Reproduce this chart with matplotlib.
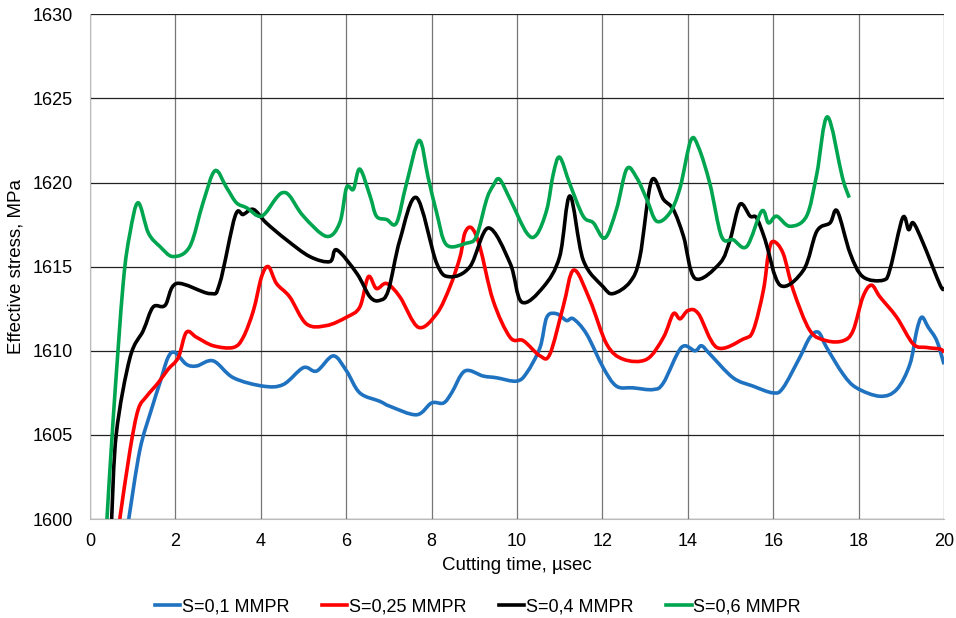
import numpy as np
import matplotlib.pyplot as plt
from matplotlib.path import Path
from matplotlib.patches import PathPatch

plt.rcParams['font.family'] = ['Liberation Sans', 'DejaVu Sans']

# S=0,1 MMPR
t_01 = [0.91, 1.17, 1.44, 1.64, 1.83, 1.99, 2.26, 2.5, 2.89, 3.36, 4.06, 4.53, 5.0, 5.31, 5.70, 6.01, 6.32, 6.79,
        7.03, 7.65, 8.0, 8.28, 8.47, 8.78, 9.21, 9.52, 9.99, 10.23, 10.54, 10.70, 10.93, 11.16, 11.32, 11.63, 12.02,
        12.33, 12.72, 13.19, 13.43, 13.85, 14.17, 14.32, 14.52, 15.06, 15.53, 16.0, 16.23, 16.62, 16.86, 17.06, 17.25,
        17.64, 17.95, 18.5, 18.89, 19.2, 19.36, 19.48, 19.63, 19.83, 20.0]
s_01 = [1600, 1604.1, 1606.5, 1608.1, 1609.6, 1609.9, 1609.2, 1609.1, 1609.4, 1608.4, 1607.9, 1608.0, 1609.0, 1608.8,
        1609.7, 1608.8, 1607.5, 1607.0, 1606.7, 1606.2, 1606.9, 1606.9, 1607.5, 1608.8, 1608.5, 1608.4, 1608.2, 1608.7,
        1610.2, 1612.0, 1612.2, 1611.8, 1611.9, 1611.0, 1609.0, 1607.9, 1607.8, 1607.7, 1608.1, 1610.2, 1610.0, 1610.3,
        1609.8, 1608.4, 1607.9, 1607.5, 1607.8, 1609.6, 1610.8, 1611.1, 1610.2, 1608.6, 1607.8, 1607.3, 1607.7, 1609.2,
        1611.2, 1612.0, 1611.4, 1610.6, 1609.2]

# S=0,25 MMPR
t_025 = [0.70, 0.94, 1.13, 1.33, 1.60, 1.83, 2.07, 2.26, 2.5, 2.89, 3.36, 3.59, 3.83, 4.02, 4.18, 4.37, 4.68, 5.07,
         5.54, 6.01, 6.32, 6.52, 6.71, 6.95, 7.26, 7.69, 8.12, 8.43, 8.67, 8.78, 8.94, 9.13, 9.44, 9.84, 10.15, 10.54,
         10.77, 11.08, 11.33, 11.71, 12.1, 12.49, 13.04, 13.43, 13.66, 13.82, 14.01, 14.25, 14.68, 15.3, 15.53, 15.77,
         15.89, 16.0, 16.23, 16.47, 16.86, 17.25, 17.64, 17.87, 18.1, 18.3, 18.5, 18.89, 19.28, 19.59, 19.91, 20.0]
s_025 = [1600, 1604.1, 1606.5, 1607.3, 1608.1, 1608.9, 1609.6, 1611.1, 1610.8, 1610.3, 1610.2, 1610.8, 1612.4, 1614.4,
         1615.0, 1614.0, 1613.2, 1611.6, 1611.5, 1612.0, 1612.6, 1614.4, 1613.7, 1614.0, 1613.2, 1611.4, 1612.2, 1613.8,
         1615.6, 1617.0, 1617.3, 1616.2, 1613.0, 1610.8, 1610.6, 1609.7, 1609.8, 1612.6, 1614.8, 1613.0, 1610.4, 1609.5,
         1609.5, 1610.8, 1612.2, 1611.9, 1612.4, 1612.2, 1610.2, 1610.7, 1611.2, 1613.6, 1615.8, 1616.5, 1615.8, 1613.6,
         1611.2, 1610.6, 1610.6, 1611.2, 1613.2, 1613.9, 1613.2, 1612.0, 1610.4, 1610.2, 1610.1, 1609.9]

# S=0,4 MMPR
t_04 = [0.51, 0.62, 0.94, 1.25, 1.48, 1.76, 2.03, 2.81, 3.04, 3.40, 3.59, 3.83, 4.13, 4.6, 5.15, 5.62, 5.78, 6.25,
        6.56, 6.79, 6.99, 7.26, 7.65, 8.12, 8.43, 8.90, 9.33, 9.84, 10.11, 10.62, 11.0, 11.24, 11.55, 12.02, 12.25,
        12.65, 12.88, 13.15, 13.43, 13.66, 13.9, 14.17, 14.75, 14.99, 15.22, 15.46, 15.61, 15.81, 16.16, 16.71, 17.02,
        17.33, 17.5, 17.8, 18.1, 18.58, 18.74, 19.03, 19.17, 19.28, 19.51, 19.91, 20.0]
s_04 = [1600, 1605.1, 1609.6, 1611.2, 1612.6, 1612.7, 1614.0, 1613.4, 1614.0, 1618.0, 1618.1, 1618.4, 1617.6, 1616.6,
        1615.6, 1615.3, 1616.0, 1614.6, 1613.2, 1613.0, 1613.6, 1616.6, 1619.1, 1615.2, 1614.4, 1615.0, 1617.3, 1615.2,
        1612.9, 1613.8, 1615.6, 1619.2, 1615.4, 1613.8, 1613.4, 1614.1, 1615.6, 1620.1, 1619.0, 1618.4, 1616.8, 1614.3,
        1615.2, 1616.6, 1618.7, 1618.0, 1617.9, 1616.6, 1613.9, 1614.8, 1617.1, 1617.6, 1618.3, 1615.8, 1614.4, 1614.2,
        1614.9, 1617.9, 1617.2, 1617.6, 1616.4, 1613.9, 1613.7]

# S=0,6 MMPR
t_06 = [0.40, 0.55, 0.78, 0.94, 1.13, 1.37, 1.64, 1.95, 2.34, 2.65, 2.93, 3.2, 3.43, 3.67, 4.02, 4.37, 4.52, 4.68,
        5.0, 5.54, 5.85, 6.01, 6.17, 6.32, 6.56, 6.71, 6.95, 7.18, 7.41, 7.71, 7.92, 8.12, 8.35, 8.82, 9.05, 9.29,
        9.44, 9.59, 9.84, 10.23, 10.46, 10.70, 10.85, 11.0, 11.24, 11.55, 11.79, 12.06, 12.33, 12.57, 12.8, 13.04,
        13.27, 13.58, 13.82, 14.07, 14.25, 14.52, 14.79, 15.06, 15.38, 15.73, 15.89, 16.08, 16.39, 16.78, 17.02,
        17.27, 17.62, 17.78]
s_06 = [1600, 1606.1, 1614.0, 1617.0, 1618.8, 1617.0, 1616.2, 1615.6, 1616.2, 1618.8, 1620.7, 1619.7, 1618.8, 1618.5,
        1618.0, 1619.1, 1619.4, 1619.2, 1618.0, 1616.8, 1617.6, 1619.7, 1619.6, 1620.8, 1619.2, 1618.0, 1617.8, 1617.6,
        1619.9, 1622.5, 1620.3, 1618.2, 1616.3, 1616.4, 1616.8, 1619.0, 1619.8, 1620.2, 1619.0, 1617.0, 1616.9, 1618.4,
        1620.5, 1621.5, 1619.9, 1618.0, 1617.6, 1616.7, 1618.4, 1620.8, 1620.3, 1619.0, 1617.7, 1618.2, 1619.7, 1622.5,
        1622.1, 1619.9, 1616.8, 1616.6, 1616.2, 1618.3, 1617.6, 1618.0, 1617.4, 1618.0, 1620.5, 1623.9, 1620.3, 1619.1]

labels = ['S=0,1 MMPR', 'S=0,25 MMPR', 'S=0,4 MMPR', 'S=0,6 MMPR']
colors = ['#1f72c0', '#ff0000', '#000000', '#00a550']


def smooth_path(t, s):
    # Excel-style smoothed line: cubic Bezier through the points
    p = np.column_stack([t, s]).astype(float)
    n = len(p)
    verts = [p[0]]
    codes = [Path.MOVETO]
    for i in range(n - 1):
        p0 = p[max(i - 1, 0)]
        p1 = p[i]
        p2 = p[i + 1]
        p3 = p[min(i + 2, n - 1)]
        verts += [p1 + (p2 - p0) / 6, p2 - (p3 - p1) / 6, p2]
        codes += [Path.CURVE4] * 3
    return Path(verts, codes)


fig = plt.figure(figsize=(9.56, 6.18), dpi=100)
ax = fig.add_axes([0.094, 0.160, 0.8935, 0.817])

series = [(t_01, s_01), (t_025, s_025), (t_04, s_04), (t_06, s_06)]
for (t, s), lab, c in zip(series, labels, colors):
    ax.add_patch(PathPatch(smooth_path(t, s), fill=False, edgecolor=c, lw=2.6,
                           joinstyle='round', capstyle='butt'))
    ax.plot([], [], color=c, lw=2.6, label=lab)

ax.set_xlim(0, 20)
ax.set_ylim(1600, 1630)
ax.set_xticks(range(0, 21, 2))
ax.set_yticks(range(1600, 1631, 5))
ax.grid(axis='y', color='#222222', lw=0.9)
ax.grid(axis='x', color='#777777', lw=0.9)
ax.set_axisbelow(True)
for side in ['top', 'right']:
    ax.spines[side].set_visible(False)
ax.spines['left'].set_color('#bbbbbb')
ax.spines['bottom'].set_color('#bbbbbb')
ax.tick_params(axis='x', length=0, labelsize=13, pad=10)
ax.tick_params(axis='y', length=0, labelsize=13, pad=12)

ax.set_xlabel('Cutting time, \u00b5sec', fontsize=13.5, labelpad=5)
ax.set_ylabel('Effective stress, MPa', fontsize=13.5, labelpad=6)

fig.legend(loc='lower center', bbox_to_anchor=(0.5, -0.022), ncol=4, frameon=False, fontsize=13,
           handlelength=1.4, handletextpad=0.1, columnspacing=1.8)

fig.savefig('out.png', dpi=100)
